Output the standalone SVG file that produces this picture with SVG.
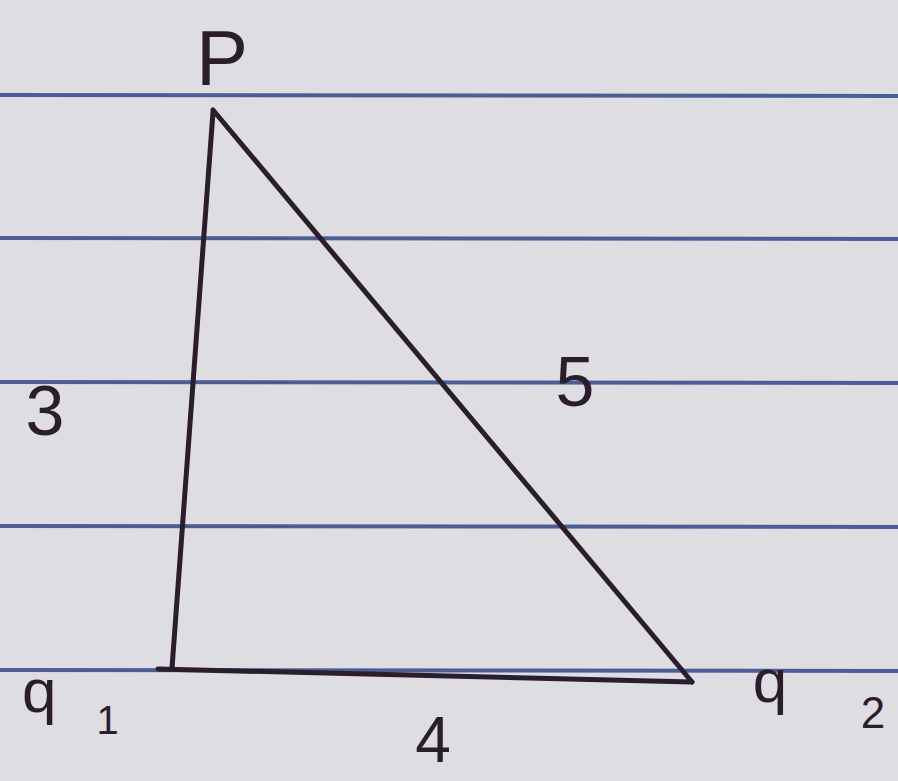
<svg xmlns="http://www.w3.org/2000/svg" width="898" height="781" viewBox="0 0 898 781">
<style>
.rule{stroke:#4d5c93;stroke-width:4;fill:none}
.edge{stroke:#2a1e2c;stroke-width:5;fill:none;stroke-linecap:round;stroke-linejoin:round}
.lbl{font-family:"Liberation Sans",Arial,sans-serif;fill:#2a1e2c}
</style>
<rect x="0" y="0" width="898" height="781" fill="#dedde2"/>
<g id="paper-lines">
<line class="rule" x1="0" y1="95" x2="898" y2="96"/>
<line class="rule" x1="0" y1="238" x2="898" y2="239"/>
<line class="rule" x1="0" y1="382" x2="898" y2="383"/>
<line class="rule" x1="0" y1="526" x2="898" y2="527"/>
<line class="rule" x1="0" y1="670" x2="898" y2="671"/>
</g>
<g id="connectors">
<path class="edge" d="M213,112 L172,668"/>
<path class="edge" d="M158,669 L692,682"/>
<path class="edge" d="M213,110 L692,682"/>
</g>
<g id="node-P"><text class="lbl" x="222" y="85" font-size="78" text-anchor="middle">P</text></g>
<g id="node-q1"><text class="lbl" x="22" y="712" font-size="62">q<tspan font-size="40" dx="40" dy="22">1</tspan></text></g>
<g id="node-q2"><text class="lbl" x="770" y="702" font-size="62" text-anchor="middle">q</text><text class="lbl" x="873" y="728" font-size="44" text-anchor="middle">2</text></g>
<g id="label-3"><text class="lbl" x="45" y="435" font-size="70" text-anchor="middle">3</text></g>
<g id="label-5"><text class="lbl" x="575" y="406" font-size="70" text-anchor="middle">5</text></g>
<g id="label-4"><text class="lbl" x="433" y="762" font-size="64" text-anchor="middle">4</text></g>
</svg>
